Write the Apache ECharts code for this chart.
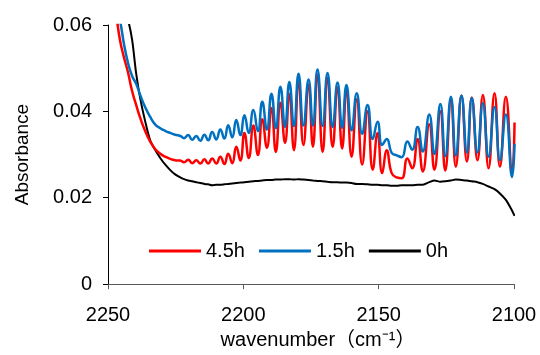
<!DOCTYPE html>
<html>
<head>
<meta charset="utf-8">
<script src="https://cdn.jsdelivr.net/npm/echarts@6/dist/echarts.min.js"></script>
<style>html,body{margin:0;padding:0;background:#fff}#c{width:540px;height:355px}</style>
</head>
<body>
<div id="c"></div>
<script>
// wavenumber (cm-1) sample positions
var wavenumber = [
  2250.0, 2248.5, 2247.0, 2245.6, 2244.1, 2242.6, 2241.1, 2239.6, 2238.1, 2236.3,
  2234.4, 2232.6, 2230.7, 2228.9, 2227.0, 2225.2, 2223.3,
  2221.9, 2220.4, 2218.9, 2217.4, 2215.9, 2214.4, 2213.0, 2211.5, 2210.0, 2208.5,
  2207.0, 2205.6, 2204.1, 2202.6, 2201.1,
  2199.6, 2198.0, 2196.3, 2194.6, 2193.0, 2191.3, 2189.6, 2188.0, 2186.3, 2184.6,
  2183.0, 2181.3, 2179.6, 2177.8, 2175.9, 2174.3, 2172.6, 2170.7, 2168.9, 2167.0,
  2165.2, 2163.5, 2161.9, 2160.0, 2158.1, 2156.1, 2154.1, 2152.2, 2150.4, 2148.7, 2147.0,
  2145.2, 2143.3, 2141.5,
  2139.4, 2137.6, 2135.6, 2133.7, 2131.3, 2129.4, 2127.2, 2125.4, 2123.3, 2121.5,
  2119.4, 2117.4, 2115.6, 2113.5, 2111.5, 2109.4, 2107.2, 2105.2, 2103.0, 2100.7,
  2099.8
];
var absorb4h5 = [
  0.0750, 0.0680, 0.0625, 0.0566, 0.0525, 0.0490, 0.0447, 0.0415, 0.0385, 0.0355,
  0.0330, 0.0313, 0.0302, 0.0295, 0.0290, 0.0287, 0.0286,
  0.0282, 0.0288, 0.0280, 0.0287, 0.0279, 0.0289, 0.0279, 0.0291, 0.0279, 0.0295,
  0.0278, 0.0302, 0.0280, 0.0318, 0.0286,
  0.0350, 0.0292, 0.0367, 0.0299, 0.0382, 0.0316, 0.0408, 0.0306, 0.0420, 0.0327,
  0.0440, 0.0310, 0.0470, 0.0322, 0.0462, 0.0318, 0.0485, 0.0306, 0.0478, 0.0318,
  0.0455, 0.0314, 0.0450, 0.0295, 0.0428, 0.0277, 0.0400, 0.0265, 0.0350, 0.0257, 0.0310,
  0.0257, 0.0247, 0.0245,
  0.0291, 0.0268, 0.0336, 0.0261, 0.0370, 0.0265, 0.0400, 0.0263, 0.0427, 0.0272,
  0.0436, 0.0284, 0.0432, 0.0287, 0.0438, 0.0268, 0.0442, 0.0272, 0.0434, 0.0257,
  0.0374
];
var absorb1h5 = [
  0.0720, 0.0670, 0.0640, 0.0611, 0.0556, 0.0512, 0.0482, 0.0464, 0.0438, 0.0410,
  0.0387, 0.0370, 0.0361, 0.0355, 0.0350, 0.0346, 0.0343,
  0.0338, 0.0345, 0.0334, 0.0343, 0.0332, 0.0346, 0.0333, 0.0352, 0.0335, 0.0358,
  0.0337, 0.0368, 0.0340, 0.0380, 0.0345,
  0.0391, 0.0350, 0.0403, 0.0354, 0.0422, 0.0358, 0.0441, 0.0361, 0.0457, 0.0364,
  0.0468, 0.0366, 0.0487, 0.0367, 0.0474, 0.0367, 0.0497, 0.0366, 0.0489, 0.0364,
  0.0467, 0.0362, 0.0461, 0.0356, 0.0442, 0.0348, 0.0415, 0.0336, 0.0376, 0.0322, 0.0336,
  0.0304, 0.0298, 0.0294,
  0.0330, 0.0311, 0.0364, 0.0307, 0.0393, 0.0301, 0.0417, 0.0296, 0.0434, 0.0298,
  0.0437, 0.0305, 0.0431, 0.0305, 0.0419, 0.0295, 0.0410, 0.0287, 0.0393, 0.0248,
  0.0325
];
var absorb0h = [
  0.0800, 0.0750, 0.0700, 0.0660, 0.0630, 0.0611, 0.0566, 0.0488, 0.0430, 0.0378,
  0.0333, 0.0311, 0.0292, 0.0277, 0.0264, 0.0254, 0.0247,
  0.0243, 0.0240, 0.0238, 0.0236, 0.0234, 0.0232, 0.0231, 0.0229, 0.0230, 0.0230,
  0.0231, 0.0232, 0.0233, 0.0234, 0.0235,
  0.0236, 0.0237, 0.0238, 0.0239, 0.0240, 0.0241, 0.0241, 0.0242, 0.0242, 0.0243,
  0.0243, 0.0242, 0.0243, 0.0242, 0.0241, 0.0240, 0.0239, 0.0238, 0.0237, 0.0236,
  0.0236, 0.0235, 0.0235, 0.0234, 0.0232, 0.0232, 0.0231, 0.0230, 0.0230, 0.0229, 0.0229,
  0.0228, 0.0228, 0.0229,
  0.0229, 0.0229, 0.0230, 0.0230, 0.0236, 0.0240, 0.0237, 0.0238, 0.0240, 0.0242,
  0.0241, 0.0240, 0.0238, 0.0236, 0.0232, 0.0226, 0.0220, 0.0210, 0.0195, 0.0170,
  0.0158
];
var seriesNames = ['4.5h', '1.5h', '0h'];
var xTicks = [2100, 2150, 2200, 2250];
var yTicks = [0, 0.02, 0.04, 0.06];

function pairs(vals) {
  return wavenumber.map(function (w, i) { return [w, vals[i]]; });
}

var font = "'Liberation Sans', Arial, 'Noto Sans CJK JP', sans-serif";
var chart = echarts.init(document.getElementById('c'), null, {renderer: 'canvas'});
chart.setOption({
  animation: false,
  backgroundColor: '#ffffff',
  grid: {left: 108, right: 26, top: 25, bottom: 65},
  legend: {
    data: seriesNames,
    left: 144, top: 236,
    icon: 'rect', itemWidth: 52, itemHeight: 3, itemGap: 14,
    textStyle: {fontSize: 20, color: '#000', fontFamily: font}
  },
  xAxis: {
    type: 'value', inverse: true,
    min: xTicks[0], max: xTicks[xTicks.length - 1], interval: 50,
    axisLine: {show: true, lineStyle: {color: '#595959', width: 1}},
    axisTick: {show: true, length: 5, lineStyle: {color: '#595959'}},
    splitLine: {show: false},
    axisLabel: {fontSize: 20, color: '#000', margin: 21, fontFamily: font,
      formatter: function (v) { return String(v); }},
    name: 'wavenumber（cm⁻¹）', nameLocation: 'middle', nameGap: 45,
    nameTextStyle: {fontSize: 20, color: '#000', fontFamily: font, padding: [0, 0, 0, 14]}
  },
  yAxis: {
    type: 'value', min: yTicks[0], max: yTicks[yTicks.length - 1], interval: 0.02,
    axisLine: {show: true, lineStyle: {color: '#000', width: 1}},
    axisTick: {show: true, length: 5, lineStyle: {color: '#000'}},
    splitLine: {show: false},
    axisLabel: {
      fontSize: 20, color: '#000', margin: 16, fontFamily: font, padding: [3, 0, 0, 0],
      formatter: function (v) { return v === 0 ? '0' : v.toFixed(2); }
    },
    name: 'Absorbance', nameLocation: 'middle', nameGap: 76, nameRotate: 90,
    nameTextStyle: {fontSize: 19, color: '#000', fontFamily: font}
  },
  series: [
    {name: seriesNames[2], type: 'line', data: pairs(absorb0h), showSymbol: false, symbol: 'none',
     smooth: 0.3, clip: true, lineStyle: {color: '#000000', width: 2}, itemStyle: {color: '#000000'}, z: 2},
    {name: seriesNames[0], type: 'line', data: pairs(absorb4h5), showSymbol: false, symbol: 'none',
     smooth: 0.5, clip: true, lineStyle: {color: '#FF0000', width: 2.5}, itemStyle: {color: '#FF0000'}, z: 3},
    {name: seriesNames[1], type: 'line', data: pairs(absorb1h5), showSymbol: false, symbol: 'none',
     smooth: 0.5, clip: true, lineStyle: {color: '#0070C0', width: 2.5}, itemStyle: {color: '#0070C0'}, z: 4}
  ]
});
</script>
</body>
</html>
